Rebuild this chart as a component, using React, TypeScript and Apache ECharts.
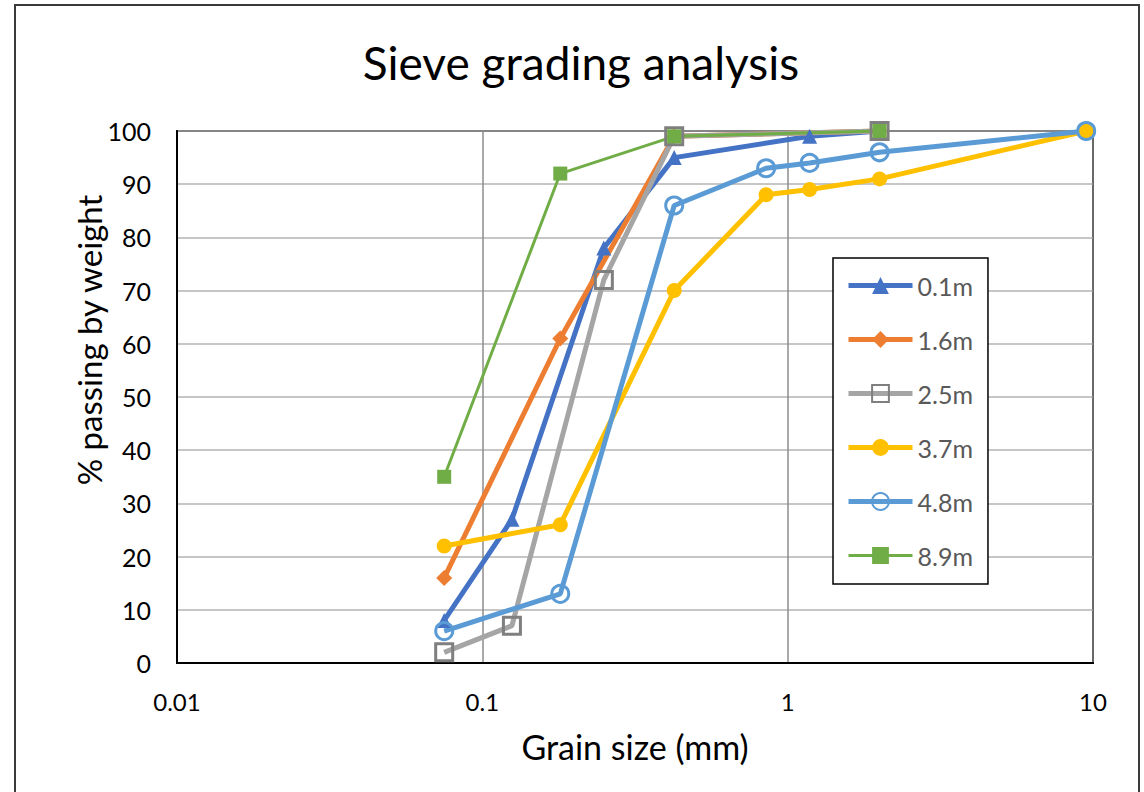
import React, { useEffect, useRef } from "react";
import * as echarts from "echarts";

// Sieve sizes (mm) and % passing for each depth
const names = ["0.1m", "1.6m", "2.5m", "3.7m", "4.8m", "8.9m"];

const x01 = [0.075, 0.125, 0.25, 0.425, 1.18, 2.0];
const y01 = [8, 27, 78, 95, 99, 100];

const x16 = [0.075, 0.18, 0.425, 2.0];
const y16 = [16, 61, 99, 100];

const x25 = [0.075, 0.125, 0.25, 0.425, 2.0];
const y25 = [2, 7, 72, 99, 100];

const x37 = [0.075, 0.18, 0.425, 0.85, 1.18, 2.0, 9.5];
const y37 = [22, 26, 70, 88, 89, 91, 100];

const x48 = [0.075, 0.18, 0.425, 0.85, 1.18, 2.0, 9.5];
const y48 = [6, 13, 86, 93, 94, 96, 100];

const x89 = [0.075, 0.18, 0.425, 2.0];
const y89 = [35, 92, 99, 100];

const xTickLabels = ["0.01", "0.1", "1", "10"];

const zip = (xs: number[], ys: number[]) => xs.map((x, i) => [x, ys[i]]);

const FONT = "Lato";

export default function App() {
  const ref = useRef<HTMLDivElement>(null);
  useEffect(() => {
    if (!ref.current) return;
    const chart = echarts.init(ref.current, undefined, { renderer: "svg" });
    const lineSeries = (
      name: string,
      data: number[][],
      color: string,
      symbol: string,
      size: number,
      width: number,
      hollow?: { border: string; bw: number }
    ) => ({
      name,
      type: "line",
      data,
      symbol,
      symbolSize: size,
      clip: false,
      lineStyle: { color, width },
      itemStyle: hollow
        ? { color: "rgba(255,255,255,0)", borderColor: hollow.border, borderWidth: hollow.bw }
        : { color },
      emphasis: { disabled: true },
    });
    const legendWidths = [5, 5, 5, 5, 5, 3];
    chart.setOption({
      animation: false,
      backgroundColor: "#fff",
      textStyle: { fontFamily: FONT },
      grid: {
        left: 177,
        top: 131,
        width: 916,
        height: 532,
        show: true,
        borderColor: "#000",
        borderWidth: 2,
        backgroundColor: "transparent",
      },
      xAxis: {
        type: "log",
        logBase: 10,
        min: 0.01,
        max: 10,
        name: "Grain size (mm)",
        nameLocation: "middle",
        nameGap: 66,
        nameTextStyle: { fontFamily: FONT, fontSize: 34, color: "#000" },
        axisLine: { show: true, lineStyle: { color: "#000", width: 2 } },
        axisTick: { show: false },
        axisLabel: {
          fontFamily: FONT,
          fontSize: 24,
          color: "#000",
          margin: 26,
          formatter: (v: number) => xTickLabels[Math.round(Math.log10(v)) + 2] ?? String(v),
        },
        splitLine: { show: true, lineStyle: { color: "#8C8C8C", width: 1.5 } },
      },
      yAxis: {
        type: "value",
        min: 0,
        max: 100,
        interval: 10,
        axisLine: { show: true, lineStyle: { color: "#000", width: 2 } },
        axisTick: { show: false },
        axisLabel: { fontFamily: FONT, fontSize: 25, color: "#000", margin: 26 },
        splitLine: { show: true, lineStyle: { color: "#B3B3B3", width: 1.5 } },
      },
      legend: {
        orient: "vertical",
        left: 833,
        top: 258,
        padding: [15, 15, 16, 13],
        itemWidth: 64,
        itemHeight: 21,
        itemGap: 29,
        borderColor: "#000",
        borderWidth: 1.5,
        backgroundColor: "#fff",
        textStyle: { fontFamily: FONT, fontSize: 25, color: "#595959" },
        data: names.map((n, i) => ({ name: n, lineStyle: { width: legendWidths[i] } })),
      },
      graphic: [
        {
          type: "rect",
          shape: { x: 15, y: 5, width: 1124, height: 820 },
          style: { fill: "none", stroke: "#3a3a3a", lineWidth: 2 },
          silent: true,
        },
        {
          type: "text",
          x: 581,
          y: 62,
          style: {
            text: "Sieve grading analysis",
            fontFamily: FONT,
            fontSize: 46,
            fill: "#000",
            align: "center",
            verticalAlign: "middle",
          },
        },
        {
          type: "text",
          x: 89,
          y: 340,
          rotation: Math.PI / 2,
          style: {
            text: "% passing by weight",
            fontFamily: FONT,
            fontSize: 33,
            fill: "#000",
            align: "center",
            verticalAlign: "middle",
          },
        },
      ],
      series: [
        lineSeries(names[0], zip(x01, y01), "#4472C4", "triangle", 15, 5),
        lineSeries(names[1], zip(x16, y16), "#ED7D31", "diamond", 16, 5),
        lineSeries(names[2], zip(x25, y25), "#A5A5A5", "rect", 17, 5, { border: "#7F7F7F", bw: 3 }),
        lineSeries(names[3], zip(x37, y37), "#FFC000", "circle", 15, 5),
        lineSeries(names[4], zip(x48, y48), "#5B9BD5", "circle", 17, 5, { border: "#5B9BD5", bw: 3 }),
        lineSeries(names[5], zip(x89, y89), "#70AD47", "rect", 14, 3),
      ],
    });
    return () => chart.dispose();
  }, []);
  return (
    <div
      ref={ref}
      style={{ position: "absolute", left: 0, top: 0, width: 1144, height: 792 }}
    />
  );
}
